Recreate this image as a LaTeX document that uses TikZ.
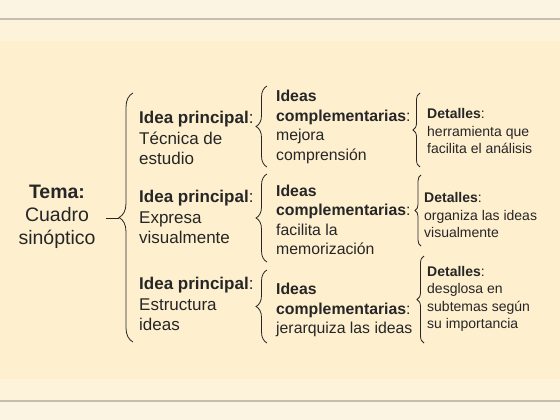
\documentclass[tikz,border=0pt]{standalone}
\usepackage{fontspec}
\setmainfont{Liberation Sans}
\usepackage{xcolor}
\usetikzlibrary{calc,positioning,decorations.pathreplacing}

\definecolor{paper}{HTML}{FCF4E2}
\definecolor{band}{HTML}{FDF2DA}
\definecolor{board}{HTML}{FEEFCF}
\definecolor{rule}{HTML}{C5BDAE}
\definecolor{ink}{HTML}{262626}

\begin{document}
\begin{tikzpicture}[x=1pt, y=-1pt, line/.style = {draw=ink, line width=0.8pt}]
		\tikzset{sbrace/.style={draw=ink, line width=0.8pt, decorate, decoration={brace, amplitude=#1}}, sbrace/.default=12}
		\tikzset{txt/.style={anchor=west, inner sep=0pt, align=left, text=ink}}

		% Background
		\useasboundingbox (0,0) rectangle (560,420);
		\fill[paper] (0,0) rectangle (560,420);
		\fill[band] (0,20) rectangle (560,400);
		\fill[board] (0,41) rectangle (560,379);
		\draw[rule, line width=2pt] (0,19.5) -- (560,19.5);
		\draw[rule, line width=2pt] (0,400.5) -- (560,400.5);

		% Tema
		\node[txt, anchor=center, align=center, font=\fontsize{19.5}{23}\selectfont] (tema) at (57,217) {\textbf{Tema:}\\Cuadro\\sinóptico};

		% Ideas principales
		\node[txt, font=\fontsize{17}{20.5}\selectfont] (idea1) at (139,138) {\textbf{Idea principal}:\\Técnica de\\estudio};
		\node[txt, font=\fontsize{17}{20.5}\selectfont] (idea2) at (139,217) {\textbf{Idea principal}:\\Expresa\\visualmente};
		\node[txt, font=\fontsize{17}{20.5}\selectfont] (idea3) at (139,304) {\textbf{Idea principal}:\\Estructura\\ideas};

		% Ideas complementarias
		\node[txt, font=\fontsize{15.8}{19.5}\selectfont] (comp1) at (276,127) {\textbf{Ideas}\\\textbf{complementarias}:\\mejora\\comprensión};
		\node[txt, font=\fontsize{15.8}{19.5}\selectfont] (comp2) at (276,220) {\textbf{Ideas}\\\textbf{complementarias}:\\facilita la\\memorización};
		\node[txt, font=\fontsize{15.8}{19.5}\selectfont] (comp3) at (276,310) {\textbf{Ideas}\\\textbf{complementarias}:\\jerarquiza las ideas};

		% Detalles
		\node[txt, font=\fontsize{14}{17.5}\selectfont] (det1) at (427,131) {\textbf{Detalles}:\\herramienta que\\facilita el análisis};
		\node[txt, font=\fontsize{14}{17.5}\selectfont] (det2) at (424,215) {\textbf{Detalles}:\\organiza las ideas\\visualmente};
		\node[txt, font=\fontsize{14}{17.5}\selectfont] (det3) at (427,299) {\textbf{Detalles}:\\desglosa en\\subtemas según\\su importancia};

		% Braces
		\draw[sbrace=14] (133,342) -- (133,93);
		\coordinate (b0tip) at (119,218);
		\draw[line, shorten <=10pt] (tema.east |- b0tip) -- (b0tip);

		\draw[sbrace=11] (267,167) -- (267,86);
		\draw[sbrace=11] (267,262) -- (267,174);
		\draw[sbrace=11] (267,343) -- (267,270);

		\draw[sbrace=7] (420,167) -- (420,93);
		\draw[sbrace=6] (421,246) -- (421,175);
		\draw[sbrace=7] (424,343) -- (424,256);

\end{tikzpicture}
\end{document}
